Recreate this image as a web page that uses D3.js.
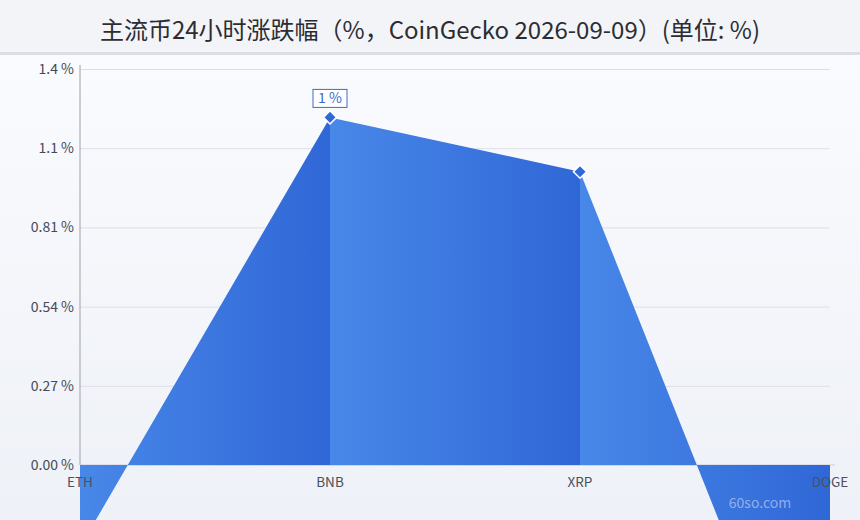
<!DOCTYPE html>
<html>
<head>
<meta charset="utf-8">
<script src="https://cdn.jsdelivr.net/npm/d3@7"></script>
<style>
  html, body { margin: 0; padding: 0; background: #f3f4f8; }
  svg { display: block; font-family: "Noto Sans CJK SC", "Noto Sans", sans-serif; }
</style>
</head>
<body>
<svg id="chart"></svg>
<script>
var categories = ["ETH", "BNB", "XRP", "DOGE"];
var values = [-0.28, 1.185, 1.0, -1.14];
var tickValues = [0, 0.27, 0.54, 0.81, 1.08, 1.35];
var tickLabels = ["0.00 %", "0.27 %", "0.54 %", "0.81 %", "1.1 %", "1.4 %"];
var markedIdx = [1, 2];
var peakLabel = "1 %";

var width = 860;
var height = 520;
var plotLeft = 80, plotRight = 830, plotTop = 69, zeroY = 465;

var data = categories.map(function(c, i) { return { name: c, value: values[i] }; });

var svg = d3.select("#chart")
    .attr("width", width)
    .attr("height", height);

var defs = svg.append("defs");

var bg = defs.append("linearGradient")
    .attr("id", "bg")
    .attr("x1", 0).attr("y1", 0).attr("x2", 0).attr("y2", 1);
bg.append("stop").attr("offset", "0%").attr("stop-color", "#fafbfe");
bg.append("stop").attr("offset", "100%").attr("stop-color", "#eef1f7");

var xScale = d3.scalePoint()
    .domain(categories)
    .range([plotLeft, plotRight]);

var yScale = d3.scaleLinear()
    .domain([0, 1.35])
    .range([zeroY, plotTop]);

// fill gradient that repeats for each category band
var band = xScale.step();
var fillGrad = defs.append("linearGradient")
    .attr("id", "fillGrad")
    .attr("gradientUnits", "userSpaceOnUse")
    .attr("spreadMethod", "repeat")
    .attr("x1", plotLeft).attr("y1", 0)
    .attr("x2", plotLeft + band).attr("y2", 0);
fillGrad.append("stop").attr("offset", "0%").attr("stop-color", "#4888e8");
fillGrad.append("stop").attr("offset", "100%").attr("stop-color", "#3067d7");

defs.append("clipPath").attr("id", "plotClip")
  .append("rect")
    .attr("x", plotLeft).attr("y", 0)
    .attr("width", plotRight - plotLeft).attr("height", height);

// title band
svg.append("rect")
    .attr("x", 0).attr("y", 0)
    .attr("width", width).attr("height", 52)
    .attr("fill", "#f3f4f8");
svg.append("rect")
    .attr("x", 0).attr("y", 52)
    .attr("width", width).attr("height", 3)
    .attr("fill", "#dcdee6");
svg.append("rect")
    .attr("x", 0).attr("y", 55)
    .attr("width", width).attr("height", height - 55)
    .attr("fill", "url(#bg)");

svg.append("text")
    .attr("x", width / 2)
    .attr("y", 39)
    .style("text-anchor", "middle")
    .style("font-size", "24px")
    .style("font-family", "'Noto Sans CJK SC', sans-serif")
    .attr("fill", "#2b2d33")
    .text("主流币24小时涨跌幅（%，CoinGecko 2026-09-09）(单位: %)");

// grid
var yAxis = d3.axisLeft(yScale)
    .tickValues(tickValues)
    .tickFormat(function(d, i) { return tickLabels[i]; })
    .tickSize(-(plotRight - plotLeft))
    .tickSizeOuter(0)
    .tickPadding(6);

var gy = svg.append("g")
    .attr("transform", "translate(" + plotLeft + ",0)")
    .call(yAxis);
gy.select(".domain").remove();
gy.selectAll(".tick line").attr("stroke", "#dcdfe8");
gy.selectAll(".tick text")
    .attr("fill", "#454a55")
    .style("font-size", "14px")
    .style("font-family", "'Noto Sans CJK SC', sans-serif");

svg.append("line")
    .attr("x1", plotLeft).attr("x2", plotLeft)
    .attr("y1", 65).attr("y2", zeroY)
    .attr("stroke", "#9aa1b0");

svg.append("line")
    .attr("x1", plotLeft).attr("x2", plotRight + 5)
    .attr("y1", zeroY).attr("y2", zeroY)
    .attr("stroke", "#c9cdd6");

// area
var area = d3.area()
    .x(function(d) { return xScale(d.name); })
    .y0(yScale(0))
    .y1(function(d) { return yScale(d.value); });

svg.append("path")
    .datum(data)
    .attr("clip-path", "url(#plotClip)")
    .attr("fill", "url(#fillGrad)")
    .attr("d", area);

// x labels
svg.append("g")
  .selectAll("text")
  .data(categories)
  .enter()
  .append("text")
    .attr("x", function(d) { return xScale(d); })
    .attr("y", 487)
    .style("text-anchor", "middle")
    .style("font-size", "13.5px")
    .attr("fill", "#4a505e")
    .text(function(d) { return d; });

// markers
var marked = markedIdx.map(function(i) { return data[i]; });
svg.append("g")
  .selectAll("path")
  .data(marked)
  .enter()
  .append("path")
    .attr("transform", function(d) {
      return "translate(" + xScale(d.name) + "," + yScale(d.value) + ")";
    })
    .attr("d", d3.symbol().type(d3.symbolDiamond2).size(110))
    .attr("fill", "#3168d8")
    .attr("stroke", "#ffffff")
    .attr("stroke-width", 1.5);

// peak label
var peak = data[1];
var px = xScale(peak.name), py = yScale(peak.value);
svg.append("rect")
    .attr("x", px - 17).attr("y", py - 28)
    .attr("width", 34).attr("height", 18)
    .attr("fill", "#ffffff")
    .attr("stroke", "#3a6cc8")
    .attr("stroke-width", 1);
svg.append("text")
    .attr("x", px)
    .attr("y", py - 14)
    .style("text-anchor", "middle")
    .style("font-size", "14px")
    .attr("fill", "#3a6cc8")
    .text(peakLabel);

// watermark
svg.append("text")
    .attr("x", 760)
    .attr("y", 508)
    .style("text-anchor", "middle")
    .style("font-size", "14px")
    .attr("fill", "#ffffff")
    .attr("fill-opacity", 0.45)
    .text("60so.com");
</script>
</body>
</html>
